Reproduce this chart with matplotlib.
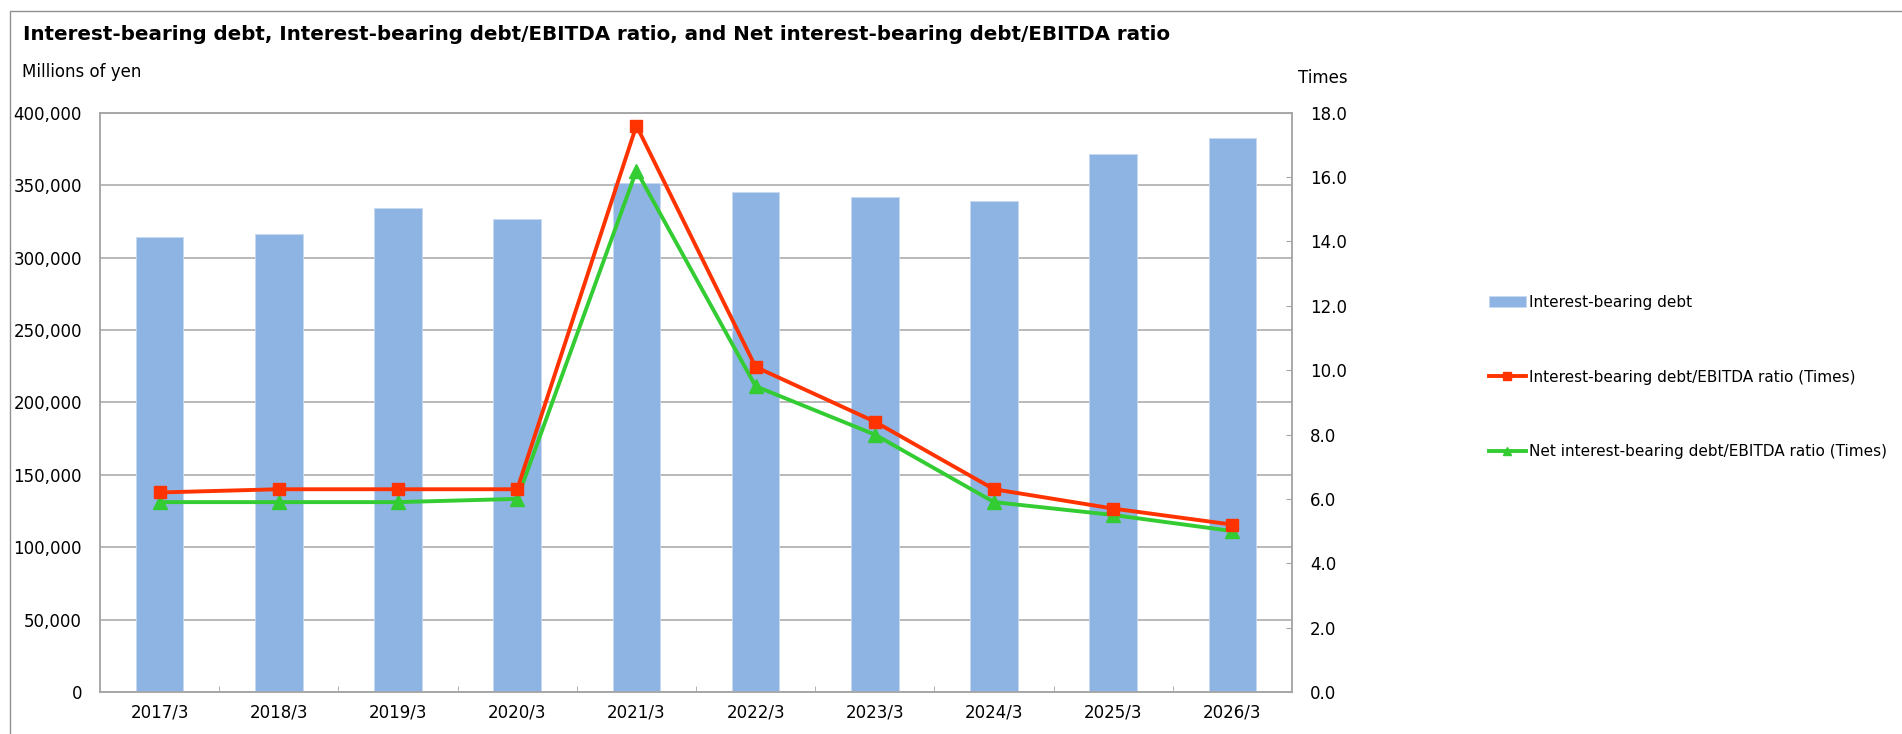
import matplotlib
matplotlib.use("Agg")
import matplotlib.pyplot as plt
from matplotlib.patches import Rectangle
from matplotlib.ticker import FuncFormatter, MultipleLocator

# values
years = ["2017/3", "2018/3", "2019/3", "2020/3", "2021/3",
         "2022/3", "2023/3", "2024/3", "2025/3", "2026/3"]
debt = [314400, 316000, 334000, 326900, 351300,
        345200, 341500, 338900, 371200, 382700]
debt_ratio = [6.2, 6.3, 6.3, 6.3, 17.6, 10.1, 8.4, 6.3, 5.7, 5.2]
net_ratio = [5.9, 5.9, 5.9, 6.0, 16.2, 9.5, 8.0, 5.9, 5.5, 5.0]

bar_color = "#8EB4E3"
red = "#FF3300"
green = "#33CC33"
grid_gray = "#a6a6a6"

W, H = 1902, 734
fig = plt.figure(figsize=(W / 100, H / 100), dpi=100)

# outer frame of the chart object
fig.add_artist(Rectangle((9.5 / W, -0.1), 2, 1 - 10.7 / H + 0.1,
                         transform=fig.transFigure, fill=False,
                         ec="#909090", lw=1))

ax = fig.add_axes([100 / W, 42 / H, 1192 / W, (692 - 112.7) / H])
x = list(range(len(years)))
ax.bar(x, debt, width=0.4, color=bar_color, edgecolor="#c6d9f1",
       linewidth=0.6, zorder=2, label="Interest-bearing debt")
ax.set_xlim(-0.5, len(years) - 0.5)
ax.set_ylim(0, 400000)
ax.yaxis.set_major_locator(MultipleLocator(50000))
ax.yaxis.set_major_formatter(FuncFormatter(lambda v, p: f"{int(v):,}"))
ax.grid(axis="y", color=grid_gray, lw=1.1, zorder=0)
ax.set_xticks(x)
ax.set_xticklabels(years)
ax.set_xticks([i + 0.5 for i in x[:-1]], minor=True)
ax.tick_params(axis="y", length=0, pad=13, labelsize=12, colors="black")
ax.tick_params(axis="x", which="major", length=0, pad=8, labelsize=12)
ax.tick_params(axis="x", which="minor", direction="in", length=4,
               color=grid_gray)
for s in ax.spines.values():
    s.set_color(grid_gray)
    s.set_linewidth(1.1)

ax2 = ax.twinx()
ax2.set_ylim(0, 18)
ax2.yaxis.set_major_locator(MultipleLocator(2))
ax2.yaxis.set_major_formatter(FuncFormatter(lambda v, p: f"{v:.1f}"))
ax2.tick_params(axis="y", direction="in", length=4, color=grid_gray,
                pad=13, labelsize=12)
for s in ax2.spines.values():
    s.set_color(grid_gray)
    s.set_linewidth(1.1)
ax2.plot(x, debt_ratio, color=red, lw=2.8, marker="s", markersize=9,
         label="Interest-bearing debt/EBITDA ratio (Times)", zorder=4)
ax2.plot(x, net_ratio, color=green, lw=2.8, marker="^", markersize=10,
         label="Net interest-bearing debt/EBITDA ratio (Times)", zorder=3)

fig.text(23 / W, 1 - 34 / H, "Interest-bearing debt, Interest-bearing debt/EBITDA ratio, "
         "and Net interest-bearing debt/EBITDA ratio",
         fontsize=14.3, fontweight="bold", va="center", ha="left")
fig.text(22 / W, 1 - 72 / H, "Millions of yen", fontsize=12, va="center")
fig.text(1298 / W, 1 - 78 / H, "Times", fontsize=12, va="center")

h1, l1 = ax.get_legend_handles_labels()
h2, l2 = ax2.get_legend_handles_labels()
fig.legend(h1 + h2, l1 + l2, loc="upper left",
           bbox_to_anchor=(1489 / W, 1 - 295 / H), frameon=False,
           fontsize=11, handlelength=2.4, handletextpad=0.25,
           labelspacing=3.9, borderpad=0, borderaxespad=0, markerscale=0.6)

fig.savefig("out.png", dpi=100)
